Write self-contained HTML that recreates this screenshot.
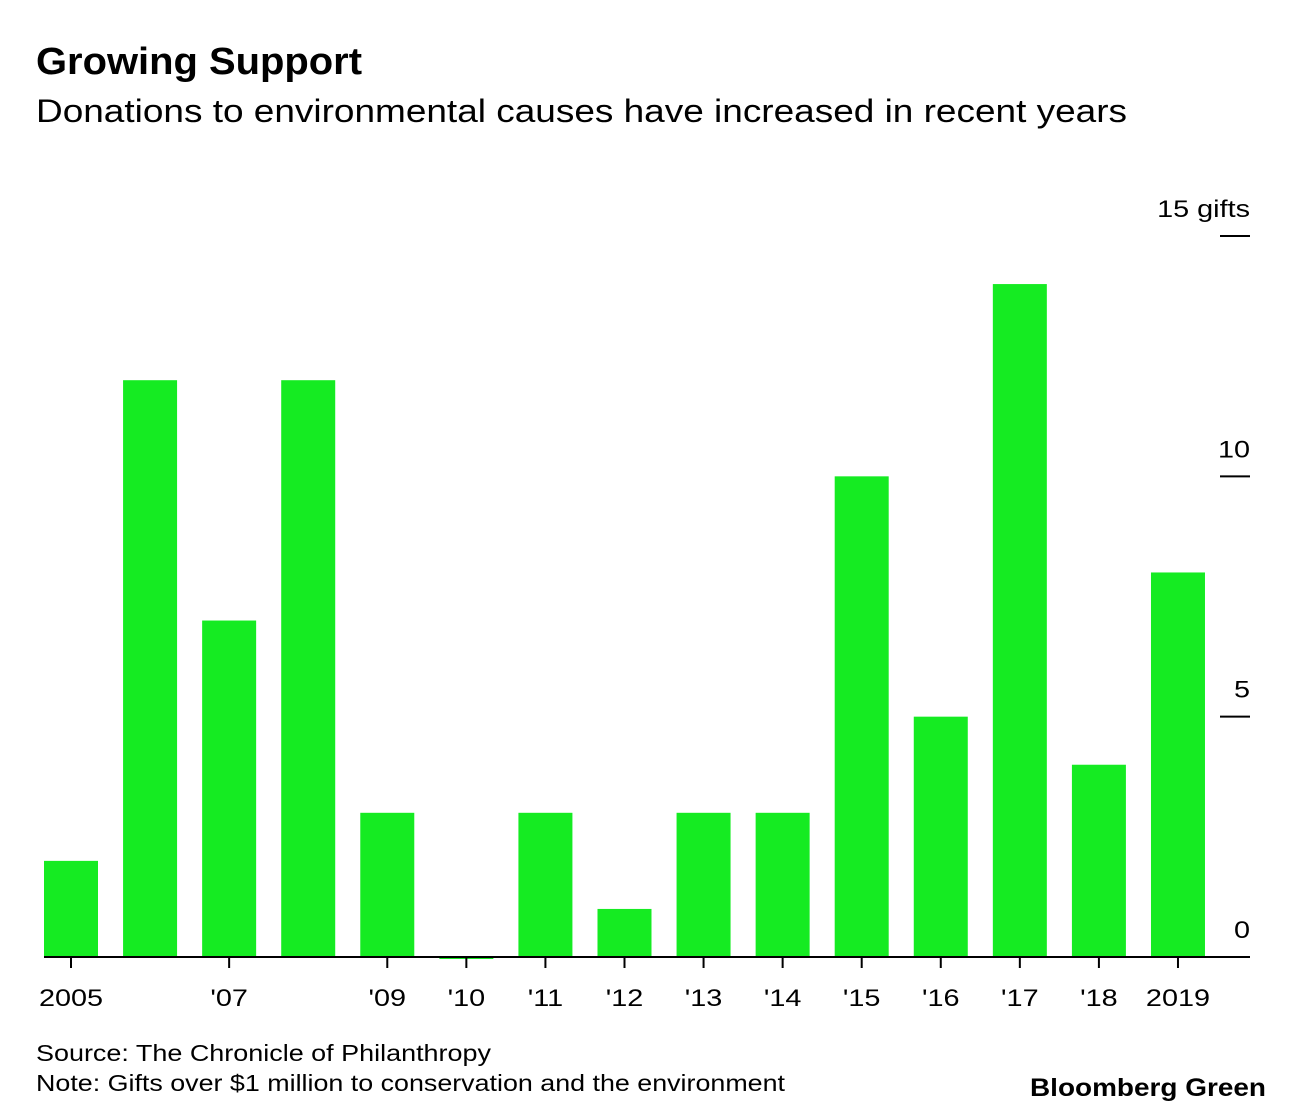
<!DOCTYPE html>
<html><head><meta charset="utf-8"><style>
body{margin:0;background:#fff;width:1296px;height:1114px;overflow:hidden;font-family:"Liberation Sans",sans-serif;}
</style></head><body>
<svg width="1296" height="1114" xmlns="http://www.w3.org/2000/svg" font-family="Liberation Sans, sans-serif">
<text x="36" y="74" font-size="38" font-weight="bold" fill="#000" textLength="326" lengthAdjust="spacingAndGlyphs">Growing Support</text>
<text x="36" y="122" font-size="32" fill="#000" textLength="1091" lengthAdjust="spacingAndGlyphs">Donations to environmental causes have increased in recent years</text>
<g id="bars"></g>
<g id="yaxis"></g>
<g id="xaxis"></g>
<text x="36" y="1061" font-size="23" fill="#000" textLength="455" lengthAdjust="spacingAndGlyphs">Source: The Chronicle of Philanthropy</text>
<text x="36" y="1091" font-size="23" fill="#000" textLength="749" lengthAdjust="spacingAndGlyphs">Note: Gifts over $1 million to conservation and the environment</text>
<text x="1030" y="1096" font-size="25" font-weight="bold" fill="#000" textLength="236" lengthAdjust="spacingAndGlyphs">Bloomberg Green</text>
</svg>
<script>
const years = [2005,2006,2007,2008,2009,2010,2011,2012,2013,2014,2015,2016,2017,2018,2019];
const values = [2,12,7,12,3,0,3,1,3,3,10,5,14,4,8];
const xLabels = ["2005","","'07","","'09","'10","'11","'12","'13","'14","'15","'16","'17","'18","2019"];
const yTicks = [0,5,10,15];
const yTickLabels = ["0","5","10","15 gifts"];

const NS="http://www.w3.org/2000/svg";
const y0=957, yTop=236, yMax=15;
const yScale=v=>y0-(v/yMax)*(y0-yTop);
const x0=44, pitch=79.07, bw=54;
const xScale=i=>x0+i*pitch;
function mk(tag,attrs,parent){const e=document.createElementNS(NS,tag);for(const k in attrs)e.setAttribute(k,attrs[k]);parent.appendChild(e);return e;}
function stretch(t){const w=t.getComputedTextLength();t.setAttribute('textLength',w*1.2);t.setAttribute('lengthAdjust','spacingAndGlyphs');}
const gb=document.getElementById('bars'), gy=document.getElementById('yaxis'), gx=document.getElementById('xaxis');
values.forEach((v,i)=>{
  let y=yScale(v), h=y0-y;
  if(h<1){y=y0;h=2;}
  const r=mk('rect',{x:xScale(i),y:y,width:bw,height:h,fill:'#15eb22'},gb);
  
  
});
const axis=mk('line',{x1:44,x2:1250,y1:y0,y2:y0,stroke:'#000','stroke-width':2},gx);


xLabels.forEach((l,i)=>{
  if(!l)return;
  const cx=xScale(i)+bw/2;
  const t=mk('line',{x1:cx,x2:cx,y1:y0,y2:968,stroke:'#000','stroke-width':2},gx);
  
  
  const tx=mk('text',{x:cx,y:1006,'font-size':24,'text-anchor':'middle',fill:'#000'},gx);
  tx.textContent=l;
  
  
  stretch(tx);
});
yTicks.forEach((v,i)=>{
  const y=yScale(v);
  if(v>0){
    const ln=mk('line',{x1:1220,x2:1250,y1:y,y2:y,stroke:'#000','stroke-width':2},gy);
    
    
  }
  const t=mk('text',{x:1250,y:y-19,'font-size':24,'text-anchor':'end',fill:'#000'},gy);
  t.textContent=yTickLabels[i];
  
  
  stretch(t);
});
</script>
</body></html>
